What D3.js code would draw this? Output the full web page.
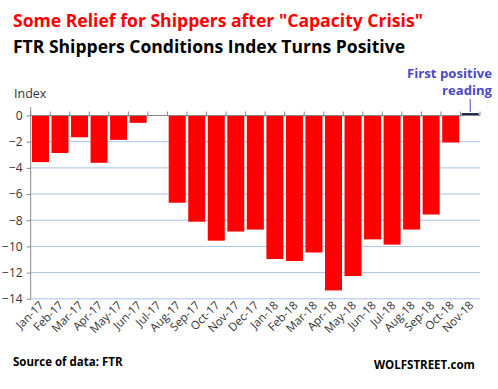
<!DOCTYPE html>
<html><head><meta charset="utf-8">
<script src="https://cdn.jsdelivr.net/npm/d3@7"></script>
<style>body{margin:0;background:#fff}svg{display:block}</style>
</head><body>
<script>
const months = ["Jan-17","Feb-17","Mar-17","Apr-17","May-17","Jun-17","Jul-17","Aug-17","Sep-17","Oct-17","Nov-17","Dec-17","Jan-18","Feb-18","Mar-18","Apr-18","May-18","Jun-18","Jul-18","Aug-18","Sep-18","Oct-18","Nov-18"];
const values = [-3.6,-2.9,-1.7,-3.65,-1.9,-0.6,0,-6.7,-8.15,-9.6,-8.9,-8.75,-11.0,-11.15,-10.5,-13.4,-12.3,-9.5,-9.9,-8.75,-7.6,-2.1,0.15];
const yTicks = [0,-2,-4,-6,-8,-10,-12,-14];
const title1 = 'Some Relief for Shippers after "Capacity  Crisis"';
const title2 = "FTR Shippers  Conditions  Index Turns Positive";

const W = 498, H = 389;
const svg = d3.select("body").append("svg").attr("width", W).attr("height", H);
const font = "'Open Sans', sans-serif";

const x = d3.scaleBand().domain(months).range([30.7, 480]).paddingInner(0.13).paddingOuter(0.065);
const y = d3.scaleLinear().domain([0, -14]).range([115, 298.3]);

// titles
svg.append("text").attr("x", 13).attr("y", 27).attr("fill", "#ff0000")
  .attr("font-family", font).attr("font-weight", 700).attr("font-size", 18)
  .attr("textLength", 410).attr("lengthAdjust", "spacingAndGlyphs").text(title1);
svg.append("text").attr("x", 13).attr("y", 53).attr("fill", "#000")
  .attr("font-family", font).attr("font-weight", 700).attr("font-size", 18)
  .attr("textLength", 392).attr("lengthAdjust", "spacingAndGlyphs").text(title2);

// Index label
svg.append("text").attr("x", 14).attr("y", 98).attr("fill", "#333")
  .attr("font-family", font).attr("font-size", 12.5).text("Index");

// gridlines
svg.append("g").selectAll("line").data(yTicks.filter(d => d !== 0)).join("line")
  .attr("x1", 30.7).attr("x2", 480).attr("y1", d => y(d) + 0.5).attr("y2", d => y(d) + 0.5)
  .attr("stroke", "#a9c3e8").attr("stroke-width", 1);

// bars
svg.append("g").selectAll("rect").data(values).join("rect")
  .attr("x", (d, i) => x(months[i]))
  .attr("width", x.bandwidth())
  .attr("y", d => y(Math.max(0, d)))
  .attr("height", d => Math.abs(y(d) - y(0)))
  .attr("fill", d => d > 0 ? "#1f2a4a" : "#ff0000");

// y axis
const yAxis = d3.axisLeft(y).tickValues(yTicks).tickSize(4).tickFormat(d3.format("d"));
const gy = svg.append("g").attr("transform", "translate(30.7,0.5)").call(yAxis);
gy.select(".domain").remove();
gy.selectAll(".tick line").attr("stroke", "#888");
gy.selectAll(".tick text").attr("font-family", font).attr("font-size", 12).attr("fill", "#333").attr("x", -8);
svg.append("line").attr("x1", 30.7).attr("x2", 30.7).attr("y1", 107).attr("y2", 299).attr("stroke", "#888");

// x axis at zero with ticks at boundaries
const bounds = d3.range(months.length + 1).map(i => 30.7 + i * x.step());
svg.append("line").attr("x1", 30.7).attr("x2", 480).attr("y1", y(0) + 0.5).attr("y2", y(0) + 0.5).attr("stroke", "#888").attr("stroke-width", 1.2);
svg.append("g").selectAll("line").data(bounds).join("line")
  .attr("x1", d => d).attr("x2", d => d).attr("y1", y(0) - 3.5).attr("y2", y(0) + 0.5)
  .attr("stroke", "#888");

// x labels
svg.append("g").selectAll("text").data(months).join("text")
  .attr("transform", d => `translate(${x(d) + x.bandwidth() / 2 + 4},306) rotate(-45)`)
  .attr("text-anchor", "end").attr("font-family", font).attr("font-size", 11.5).attr("fill", "#333")
  .text(d => d);

// annotation
const ac = "#4a4ac6";
svg.append("text").attr("x", 492).attr("y", 78).attr("text-anchor", "end").attr("fill", ac)
  .attr("font-family", font).attr("font-weight", 700).attr("font-size", 13)
  .attr("textLength", 85).attr("lengthAdjust", "spacingAndGlyphs").text("First positive");
svg.append("text").attr("x", 492).attr("y", 95).attr("text-anchor", "end").attr("fill", ac)
  .attr("font-family", font).attr("font-weight", 700).attr("font-size", 13)
  .attr("textLength", 50).attr("lengthAdjust", "spacingAndGlyphs").text("reading");
const nx = x("Nov-18") + x.bandwidth() / 2;
svg.append("line").attr("x1", nx).attr("x2", nx).attr("y1", 99).attr("y2", 112).attr("stroke", ac).attr("stroke-width", 1);

// footer
svg.append("text").attr("x", 13).attr("y", 366).attr("fill", "#000")
  .attr("font-family", font).attr("font-weight", 700).attr("font-size", 11.5).text("Source of data: FTR");
svg.append("text").attr("x", 374).attr("y", 369).attr("fill", "#000")
  .attr("font-family", font).attr("font-weight", 700).attr("font-size", 11.5).text("WOLFSTREET.com");
</script>
</body></html>
